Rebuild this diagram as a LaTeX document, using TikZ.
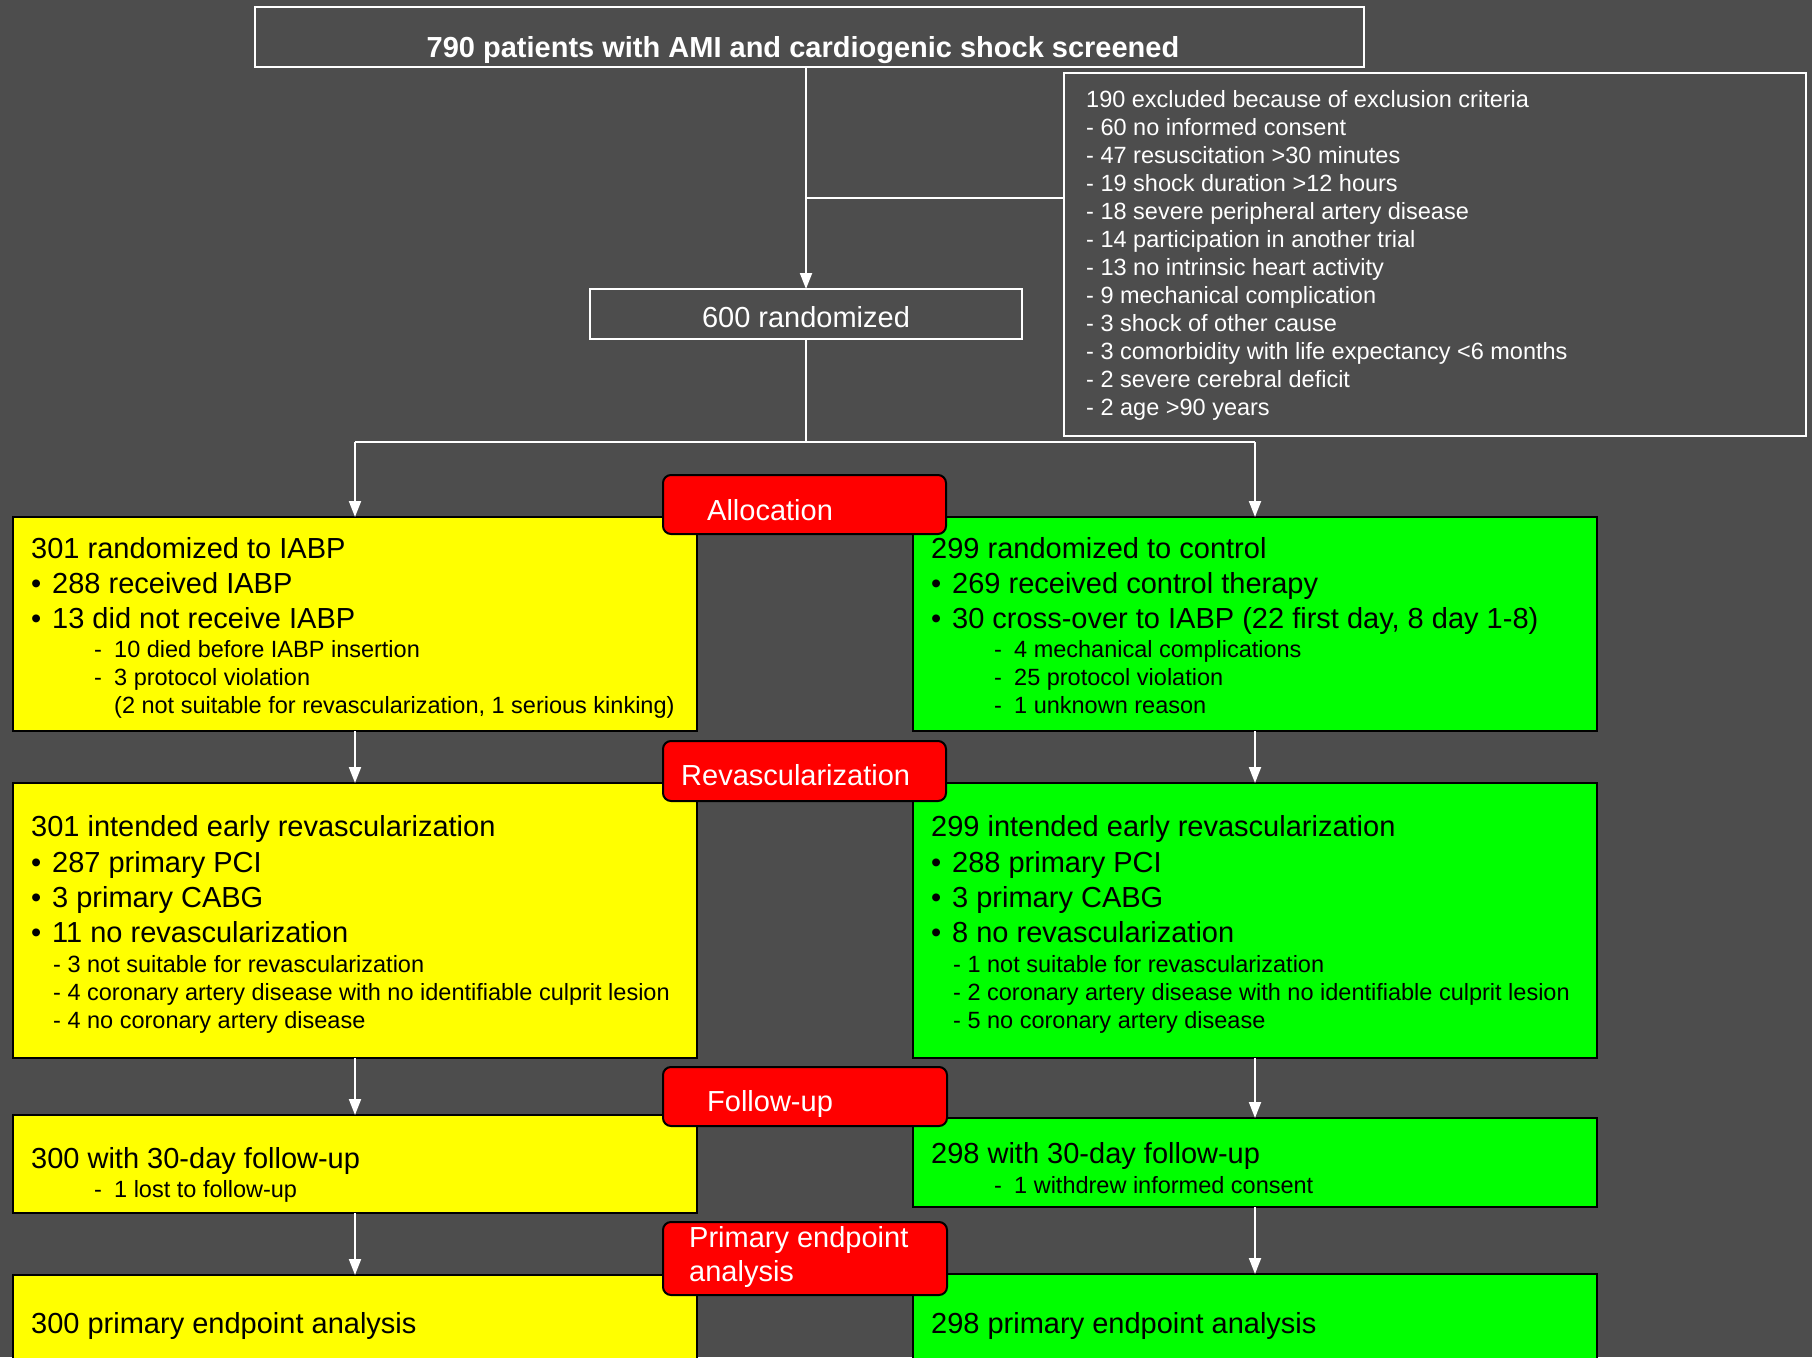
\documentclass[tikz,border=0pt]{standalone}
\usepackage{fontspec}
\setmainfont{Liberation Sans}
\usetikzlibrary{arrows.meta}
\definecolor{bgc}{RGB}{77,77,77}
\definecolor{ylw}{RGB}{255,255,0}
\definecolor{grn}{RGB}{0,255,0}
\definecolor{rd}{RGB}{255,0,0}
\newcommand{\fbig}{\fontsize{29}{35}\selectfont}
\newcommand{\fsml}{\fontsize{23.5}{28}\selectfont}
\newcommand{\bul}{\makebox[21pt][l]{\textbullet}}
\newcommand{\dsh}{\makebox[20pt][l]{-}}
\tikzset{
  wbox/.style={draw=white, line width=2.5pt, fill=none, inner sep=0pt, outer sep=0pt, anchor=north west},
  ybox/.style={draw=black, line width=2.5pt, fill=ylw, inner sep=0pt, outer sep=0pt, anchor=north west},
  gbox/.style={draw=black, line width=2.5pt, fill=grn, inner sep=0pt, outer sep=0pt, anchor=north west},
  rbox/.style={draw=black, line width=2pt, fill=rd, rounded corners=8pt, inner sep=0pt, outer sep=0pt, anchor=north west},
  wline/.style={draw=white, line width=2pt},
  warrow/.style={draw=white, line width=2pt, -{Triangle[width=12pt,length=16pt]}},
  tb/.style={anchor=base west, inner sep=0pt, font=\fbig, text=black},
  ts/.style={anchor=base west, inner sep=0pt, font=\fsml, text=black},
  tw/.style={anchor=base west, inner sep=0pt, font=\fsml, text=white},
  trd/.style={anchor=base west, inner sep=0pt, font=\fbig, text=white},
}
\begin{document}
\begin{tikzpicture}[x=1pt,y=-1pt]
\useasboundingbox (0,0) rectangle (1812,1357);
\clip (0,0) rectangle (1812,1357);
\fill[bgc] (0,0) rectangle (1812,1357);

% boxes
\node[wbox, minimum width=1109pt, minimum height=60pt] (top) at (255,7) {};
\node[wbox, minimum width=742pt, minimum height=363pt] (excl) at (1064,73) {};
\node[wbox, minimum width=432pt, minimum height=50pt] (rand) at (590,289) {};

\node[ybox, minimum width=684pt, minimum height=214pt] (y1) at (13,517) {};
\node[gbox, minimum width=684pt, minimum height=214pt] (g1) at (913,517) {};
\node[ybox, minimum width=684pt, minimum height=275pt] (y2) at (13,783) {};
\node[gbox, minimum width=684pt, minimum height=275pt] (g2) at (913,783) {};
\node[ybox, minimum width=684pt, minimum height=98pt] (y3) at (13,1115) {};
\node[gbox, minimum width=684pt, minimum height=89pt] (g3) at (913,1118) {};
\node[ybox, minimum width=684pt, minimum height=130pt] (y4) at (13,1275) {};
\node[gbox, minimum width=684pt, minimum height=130pt] (g4) at (913,1274) {};

\node[rbox, minimum width=283pt, minimum height=59pt] (alloc) at (663,475) {};
\node[rbox, minimum width=283pt, minimum height=60pt] (revasc) at (663,741) {};
\node[rbox, minimum width=284pt, minimum height=59pt] (follow) at (663,1067) {};
\node[rbox, minimum width=284pt, minimum height=73pt] (prim) at (663,1222) {};

% connectors
\coordinate (jx) at (806,198);
\coordinate (hy) at (0,442);
\coordinate (sl) at (y1.north |- hy);
\coordinate (sr) at (g1.north |- hy);
\draw[warrow] (top.south -| rand.north) -- (rand.north);
\draw[wline] (jx -| rand.north) -- (jx -| excl.west);
\draw[wline] (rand.south) -- (rand.south |- hy);
\draw[wline] (sl) -- (sr);
\draw[warrow] (sl) -- (y1.north);
\draw[warrow] (sr) -- (g1.north);
\draw[warrow] (y1.south) -- (y2.north);
\draw[warrow] (g1.south) -- (g2.north);
\draw[warrow] (y2.south) -- (y3.north);
\draw[warrow] (g2.south) -- (g3.north);
\draw[warrow] (y3.south) -- (y4.north);
\draw[warrow] (g3.south) -- (g4.north);

% top texts
\node[anchor=base, inner sep=0pt, text=white, font=\fontsize{29}{35}\selectfont\bfseries] (toptxt) at (803,57) {790 patients with AMI and cardiogenic shock screened};
\node[anchor=base, inner sep=0pt, text=white, font=\fbig] (randtxt) at (806,327) {600 randomized};

% exclusion list
\node[tw] (e0) at (1086,107) {190 excluded because of exclusion criteria};
\node[tw] (e1) at (1086,135) {- 60 no informed consent};
\node[tw] (e2) at (1086,163) {- 47 resuscitation >30 minutes};
\node[tw] (e3) at (1086,191) {- 19 shock duration >12 hours};
\node[tw] (e4) at (1086,219) {- 18 severe peripheral artery disease};
\node[tw] (e5) at (1086,247) {- 14 participation in another trial};
\node[tw] (e6) at (1086,275) {- 13 no intrinsic heart activity};
\node[tw] (e7) at (1086,303) {- 9 mechanical complication};
\node[tw] (e8) at (1086,331) {- 3 shock of other cause};
\node[tw] (e9) at (1086,359) {- 3 comorbidity with life expectancy <6 months};
\node[tw] (e10) at (1086,387) {- 2 severe cerebral deficit};
\node[tw] (e11) at (1086,415) {- 2 age >90 years};

% red labels
\node[trd] (allocT) at (707,520) {Allocation};
\node[trd] (revascT) at (681,785) {Revascularization};
\node[trd] (followT) at (707,1111) {Follow-up};
\node[trd] (primT1) at (689,1247) {Primary endpoint};
\node[trd] (primT2) at (689,1281) {analysis};

% yellow box 1
\node[tb] (y1a) at (31,558) {301 randomized to IABP};
\node[tb] (y1b) at (31,593) {\bul 288 received IABP};
\node[tb] (y1c) at (31,628) {\bul 13 did not receive IABP};
\node[ts] (y1d) at (94,657) {\dsh 10 died before IABP insertion};
\node[ts] (y1e) at (94,685) {\dsh 3 protocol violation};
\node[ts] (y1f) at (114,713) {(2 not suitable for revascularization, 1 serious kinking)};

% green box 1
\node[tb] (g1a) at (931,558) {299 randomized to control};
\node[tb] (g1b) at (931,593) {\bul 269 received control therapy};
\node[tb] (g1c) at (931,628) {\bul 30 cross-over to IABP (22 first day, 8 day 1-8)};
\node[ts] (g1d) at (994,657) {\dsh 4 mechanical complications};
\node[ts] (g1e) at (994,685) {\dsh 25 protocol violation};
\node[ts] (g1f) at (994,713) {\dsh 1 unknown reason};

% yellow box 2
\node[tb] (y2a) at (31,836) {301 intended early revascularization};
\node[tb] (y2b) at (31,872) {\bul 287 primary PCI};
\node[tb] (y2c) at (31,907) {\bul 3 primary CABG};
\node[tb] (y2d) at (31,942) {\bul 11 no revascularization};
\node[ts] (y2e) at (53,972) {- 3 not suitable for revascularization};
\node[ts] (y2f) at (53,1000) {- 4 coronary artery disease with no identifiable culprit lesion};
\node[ts] (y2g) at (53,1028) {- 4 no coronary artery disease};

% green box 2
\node[tb] (g2a) at (931,836) {299 intended early revascularization};
\node[tb] (g2b) at (931,872) {\bul 288 primary PCI};
\node[tb] (g2c) at (931,907) {\bul 3 primary CABG};
\node[tb] (g2d) at (931,942) {\bul 8 no revascularization};
\node[ts] (g2e) at (953,972) {- 1 not suitable for revascularization};
\node[ts] (g2f) at (953,1000) {- 2 coronary artery disease with no identifiable culprit lesion};
\node[ts] (g2g) at (953,1028) {- 5 no coronary artery disease};

% box 3
\node[tb] (y3a) at (31,1168) {300 with 30-day follow-up};
\node[ts] (y3b) at (94,1197) {\dsh 1 lost to follow-up};
\node[tb] (g3a) at (931,1163) {298 with 30-day follow-up};
\node[ts] (g3b) at (994,1193) {\dsh 1 withdrew informed consent};

% box 4
\node[tb] (y4a) at (31,1333) {300 primary endpoint analysis};
\node[tb] (g4a) at (931,1333) {298 primary endpoint analysis};
\end{tikzpicture}
\end{document}
